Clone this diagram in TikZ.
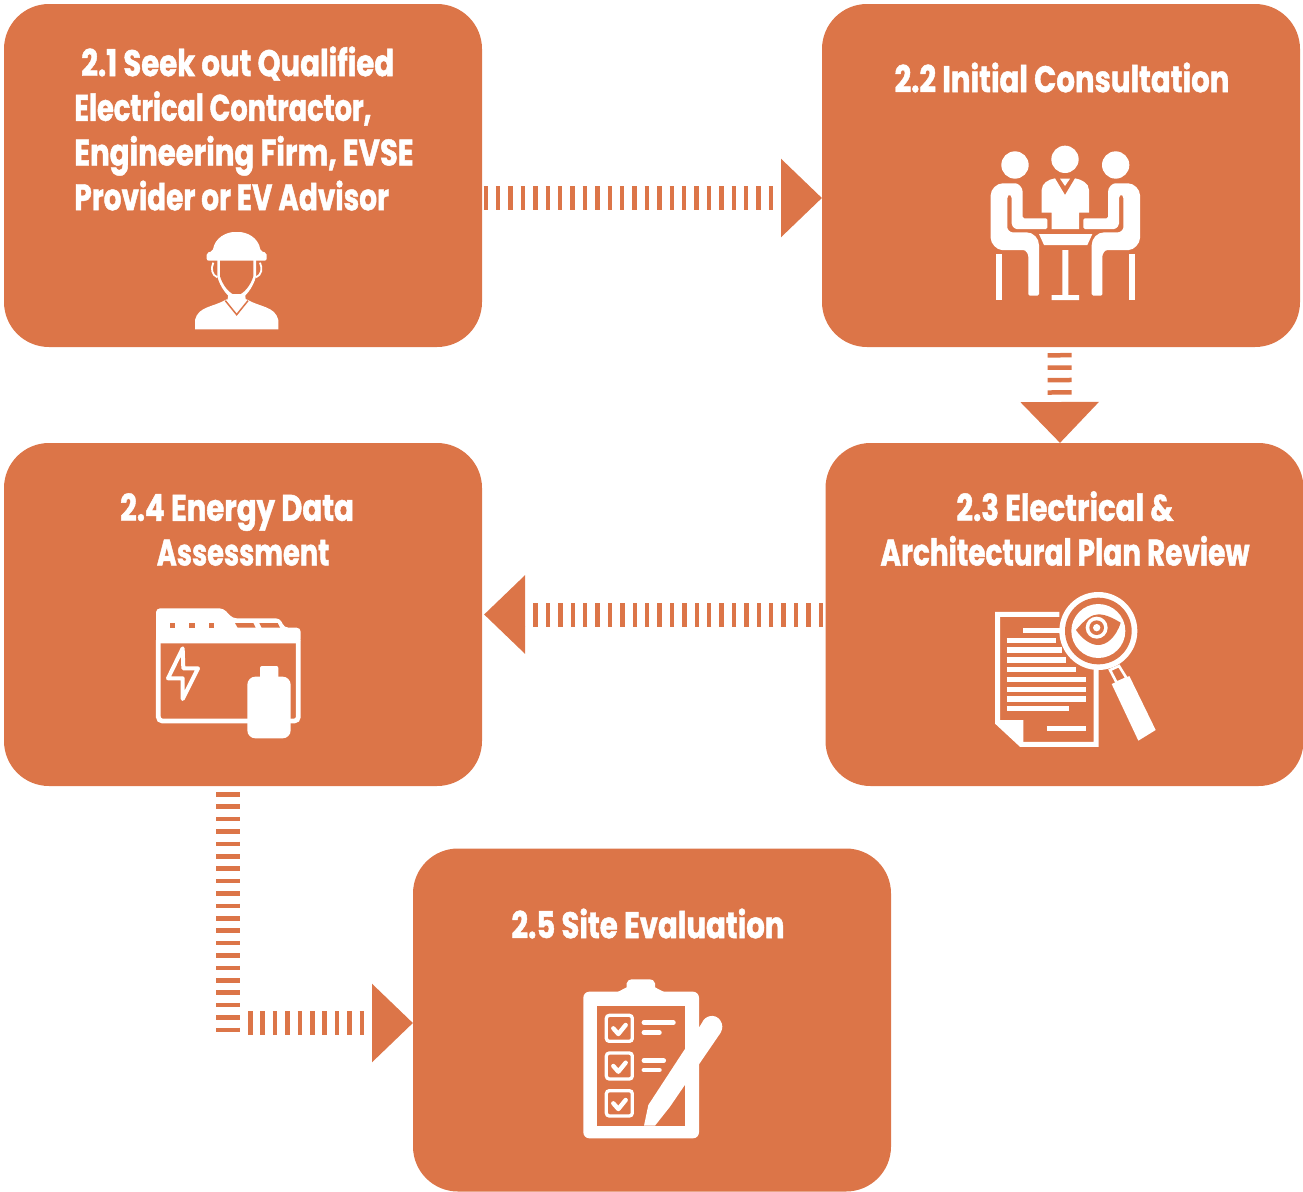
\documentclass[tikz,border=0pt]{standalone}
\usepackage{fontspec}
\usetikzlibrary{arrows.meta}
\newfontfamily\labfont[FakeStretch=0.788,FakeBold=1.2]{Poppins Bold}
\newfontfamily\labfontn[FakeStretch=0.755,FakeBold=1.2]{Poppins Bold}
\newfontfamily\labfontm[FakeStretch=0.735,FakeBold=1.2]{Poppins Bold}
\definecolor{boxor}{HTML}{DC7548}
\tikzset{
  stepbox/.style={fill=boxor,draw=none,rounded corners=45pt,minimum width=478pt,minimum height=343pt,inner sep=0pt,outer sep=0pt},
  steptext/.style={text=white,font=\labfont\fontsize{37}{44.7}\selectfont,inner sep=0pt,align=center},
  flowbar/.style={draw=boxor,line width=24pt,dash pattern=on 4.5pt off 7.9pt},
  flow/.style={flowbar,-{Triangle[length=41pt,width=76pt,fill=boxor]}},
  zm/.style 2 args={shift={(#1,#2)},x=0.33333pt,y=-0.33333pt},
}
\begin{document}
\begin{tikzpicture}[x=1pt,y=-1pt]
\useasboundingbox (0,0) rectangle (1303,1191);
% boxes
\node[stepbox] (n1) at (243,175.5) {};
\node[stepbox] (n2) at (1061,175.5) {};
\node[stepbox] (n3) at (1064.5,614.5) {};
\node[stepbox] (n4) at (243,614.5) {};
\node[stepbox] (n5) at (652,1020) {};
% texts
\node[steptext,align=left] (t1) at (244,128.5) {\hspace{7pt}2.1 Seek out Qualified\\{\labfontm Electrical Contractor,}\\Engineering Firm, EVSE\\{\labfontn Provider or EV Advisor}};
\node[steptext] (t2) at (1062,77.5) {2.2 Initial Consultation};
\node[steptext] (t3) at (1065,528.5) {2.3 Electrical \&\\{\labfontn Architectural Plan Review}};
\node[steptext] (t4) at (237,529.5) {2.4 Energy Data\\\hspace*{12pt}{\labfontm Assessment}};
\node[steptext] (t5) at (648,923.5) {2.5 Site Evaluation};
% connectors
\draw[flow] ([xshift=1.5pt,yshift=-22.5pt]n1.east) -- ([yshift=-22.5pt]n2.west);
\draw[flow] ([xshift=-1.5pt,yshift=-6pt]n2.south) -- ([xshift=-4.5pt]n3.north);
\draw[flow] ([xshift=-2.5pt]n3.west) -- ([xshift=2pt]n4.east);
\coordinate (bendA) at (228,1032);
\coordinate (bendB) at (248,1023);
\draw[flowbar] ([xshift=-15pt,yshift=-6pt]n4.south) -- (bendA);
\draw[flow] (bendB) -- ([yshift=-3pt]n5.west);
% icon 2.1 worker
\begin{scope}[zm={170}{220}]
\fill[white] (75,328) -- (75,300) .. controls (85,258) and (130,262) .. (170,238) -- (230,238) .. controls (270,262) and (315,258) .. (325,300) -- (325,328) -- cycle;
\draw[boxor,line width=1.5pt] (166,242) -- (200,284) -- (234,242);
\fill[white,rounded corners=2pt] (110,122) -- (110,98) -- (128,94) .. controls (135,52) and (170,36) .. (200,36) .. controls (230,36) and (265,52) .. (272,94) -- (290,98) -- (290,122) -- cycle;
\fill[white] (142,120) -- (142,170) .. controls (150,200) and (175,238) .. (200,241) .. controls (225,238) and (250,200) .. (258,170) -- (258,120) -- cycle;
\fill[boxor] (150,122) -- (250,122) -- (250,168) .. controls (243,195) and (220,224) .. (200,226) .. controls (180,224) and (157,195) .. (150,168) -- cycle;
\draw[white,line width=1.8pt] (130,128) .. controls (122,145) and (125,165) .. (142,172);
\draw[white,line width=1.8pt] (270,128) .. controls (278,145) and (275,165) .. (258,172);
\fill[white] (175,222) -- (225,222) -- (228,244) -- (172,244) -- cycle;
\end{scope}
% icon 2.2 meeting
\begin{scope}[zm={940}{130}]
\fill[white] (225,105) circle[radius=41];
\fill[white] (375,88) circle[radius=41];
\fill[white] (527,105) circle[radius=41];
\fill[white,rounded corners=1.5pt] (152,200) -- (152,320) .. controls (152,340) and (170,360) .. (190,360) -- (245,360) .. controls (258,360) and (265,372) .. (265,385) -- (265,497) -- (297,497) -- (297,350) .. controls (297,325) and (280,307) .. (255,307) -- (222,307) .. controls (210,307) and (202,298) .. (202,288) -- (202,200) -- (208,193) -- (215,200) -- (215,285) -- (225,297) -- (322,297) -- (322,265) -- (248,265) -- (248,190) .. controls (248,172) and (235,160) .. (222,160) -- (192,160) .. controls (170,160) and (152,178) .. (152,200) -- cycle;
\begin{scope}[shift={(752,0)},xscale=-1]
\fill[white,rounded corners=1.5pt] (152,200) -- (152,320) .. controls (152,340) and (170,360) .. (190,360) -- (245,360) .. controls (258,360) and (265,372) .. (265,385) -- (265,497) -- (297,497) -- (297,350) .. controls (297,325) and (280,307) .. (255,307) -- (222,307) .. controls (210,307) and (202,298) .. (202,288) -- (202,200) -- (208,193) -- (215,200) -- (215,285) -- (225,297) -- (322,297) -- (322,265) -- (248,265) -- (248,190) .. controls (248,172) and (235,160) .. (222,160) -- (192,160) .. controls (170,160) and (152,178) .. (152,200) -- cycle;
\end{scope}
\fill[white] (305,180) .. controls (305,160) and (325,148) .. (345,145) -- (375,195) -- (405,145) .. controls (425,148) and (447,160) .. (447,180) -- (447,248) -- (417,248) -- (417,297) -- (335,297) -- (335,248) -- (305,248) -- cycle;
\fill[white] (360,146) -- (390,146) -- (375,168) -- cycle;
\fill[white] (297,312) -- (457,312) -- (442,345) -- (312,345) -- cycle;
\fill[white] (367,360) -- (385,360) -- (385,495) -- (417,495) -- (417,510) -- (335,510) -- (335,495) -- (367,495) -- cycle;
\fill[white] (168,372) rectangle (186,510);
\fill[white] (566,372) rectangle (584,510);
\end{scope}
% icon 2.3 review
\begin{scope}[zm={970}{580}]
\draw[white,line width=5pt] (268,103) -- (83,103) -- (83,428) -- (153,493) -- (378,493) -- (378,270);
\fill[white] (90,420) -- (160,420) -- (160,490) -- (150,490) -- (90,432) -- cycle;
\begin{scope}[white,line width=5.2pt]
\draw (160,152) -- (270,152);
\draw (110,181) -- (258,181);
\draw (110,210) -- (275,210);
\draw (110,240) -- (287,240);
\draw (110,269) -- (318,269);
\draw (110,298) -- (348,298);
\draw (110,328) -- (348,328);
\draw (110,357) -- (348,357);
\draw (110,386) -- (298,386);
\draw (230,446) -- (348,446);
\end{scope}
\fill[white] (385,153) circle[radius=117];
\fill[boxor] (385,153) circle[radius=100];
\fill[white] (385,153) circle[radius=81];
\fill[boxor] (318,150) .. controls (345,118) and (365,103) .. (385,103) .. controls (410,103) and (435,118) .. (452,128) .. controls (438,172) and (410,195) .. (385,195) .. controls (360,195) and (335,175) .. (318,150) -- cycle;
\fill[white] (380,143) circle[radius=33];
\fill[boxor] (380,143) circle[radius=22];
\fill[white] (380,143) circle[radius=11];
\draw[white,line width=2.6pt,fill=boxor] (420,270) -- (447,258) -- (470,295) -- (440,308) -- cycle;
\fill[white] (425,312) -- (478,288) -- (557,450) -- (505,482) -- cycle;
\end{scope}
% icon 2.4 folder
\begin{scope}[zm={140}{595}]
\fill[white,rounded corners=4pt] (48,145) -- (48,40) -- (250,40) -- (278,70) -- (420,70) -- (433,98) -- (482,98) -- (482,145) -- cycle;
\fill[boxor] (90,83) rectangle (106,99);
\fill[boxor] (148,83) rectangle (164,99);
\fill[boxor] (206,83) rectangle (222,99);
\fill[boxor] (285,84) -- (340,84) -- (347,98) -- (293,98) -- cycle;
\fill[boxor] (358,84) -- (413,84) -- (420,98) -- (365,98) -- cycle;
\draw[white,line width=4.7pt,rounded corners=4pt] (55,135) -- (55,378) -- (330,378);
\draw[white,line width=4.7pt,rounded corners=4pt] (475,135) -- (475,378) -- (445,378);
\draw[white,line width=4pt,line join=round] (128,160) -- (84,250) -- (128,250) -- (128,312) -- (174,220) -- (130,220) -- cycle;
\fill[white,rounded corners=8pt] (322,245) rectangle (452,430);
\fill[white,rounded corners=2pt] (360,213) rectangle (415,255);
\end{scope}
% icon 2.5 clipboard
\begin{scope}[zm={570}{970}]
\fill[white,rounded corners=6pt] (40,65) rectangle (387,505);
\fill[white] (135,70) -- (170,52) -- (170,40) .. controls (172,32) and (178,28) .. (185,28) -- (240,28) .. controls (247,28) and (253,32) .. (255,40) -- (255,52) -- (290,70) -- cycle;
\fill[boxor] (82,108) rectangle (345,467);
\begin{scope}[white,line width=3.3pt,rounded corners=3pt]
\draw (109,136) rectangle (187,214);
\draw (109,249) rectangle (187,327);
\draw (109,362) rectangle (187,438);
\end{scope}
\begin{scope}[white,line width=4.4pt,line cap=round,line join=round]
\draw (130,175) -- (145,192) -- (167,165);
\draw (130,288) -- (145,305) -- (167,278);
\draw (130,400) -- (145,417) -- (167,390);
\end{scope}
\begin{scope}[white,line width=4.8pt,line cap=round]
\draw (222,158) -- (310,158);
\draw (222,188) -- (268,188);
\draw (222,272) -- (281,272);
\draw (222,300) -- (268,300);
\end{scope}
\fill[white] (395,160) .. controls (405,135) and (435,130) .. (450,150) .. controls (460,165) and (458,175) .. (452,188) -- (300,410) -- (255,467) -- (222,467) -- (235,405) -- cycle;
\end{scope}
\end{tikzpicture}
\end{document}
